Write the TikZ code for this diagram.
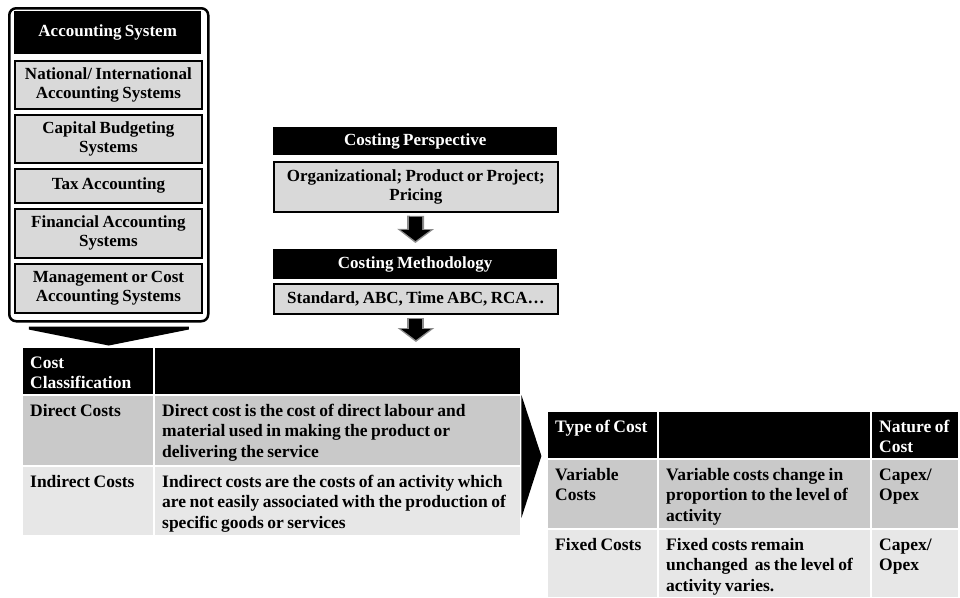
\documentclass[tikz,border=0pt]{standalone}
\usepackage{fontspec}
\setmainfont{Liberation Serif}[WordSpace=0.8]
\usepackage{xcolor}
\usetikzlibrary{calc,arrows.meta}

\definecolor{listgray}{RGB}{217,217,217}
\definecolor{rowdark}{RGB}{201,201,201}
\definecolor{rowlight}{RGB}{231,231,231}

\begin{document}
\begin{tikzpicture}[x=1pt, y=-1pt,
    head/.style={fill=black, text=white, font=\bfseries\fontsize{17}{19}\selectfont, align=center, inner sep=0pt, anchor=north west},
    listbox/.style={fill=listgray, draw=black, line width=1.8pt, font=\bfseries\fontsize{17}{19}\selectfont, align=center, inner sep=0pt, anchor=north west, minimum width=187pt},
    cell/.style={anchor=north west, inner xsep=7pt, inner ysep=6pt, align=flush left, text height=14pt, font=\bfseries\fontsize{17.5}{20.5}\selectfont},
    cellhead/.style={cell, fill=black, text=white},
    celldark/.style={cell, fill=rowdark},
    celllight/.style={cell, fill=rowlight},
    arrowrim/.style={draw=black!45, line width=17pt, -{Triangle[length=14pt, width=36pt]}, shorten <=3pt, shorten >=6pt},
    arrowcore/.style={draw=black, line width=13pt, -{Triangle[length=11pt, width=29pt]}, shorten <=4pt, shorten >=8pt}
]
    \useasboundingbox (0,0) rectangle (960,597);

    % Accounting system stack
    \node[draw=black, line width=2.5pt, rounded corners=7pt, minimum width=199pt, minimum height=313pt, anchor=north west, inner sep=0pt] (acc) at (8,7) {};
    \node[head, minimum width=187pt, minimum height=43pt] (acchead) at (14,11) {Accounting System};
    \node[listbox, minimum height=48pt] (natl) at (14,60) {National/ International\\Accounting Systems};
    \node[listbox, minimum height=48pt] (capb) at (14,114) {Capital Budgeting\\Systems};
    \node[listbox, minimum height=34pt] (taxa) at (14,168) {Tax Accounting};
    \node[listbox, minimum height=49pt] (fina) at (14,208) {Financial Accounting\\Systems};
    \node[listbox, minimum height=49pt] (mgmt) at (14,263) {Management or Cost\\Accounting Systems};

    % Costing perspective and methodology
    \node[head, minimum width=284pt, minimum height=28pt] (phead) at (273,127) {Costing Perspective};
    \node[listbox, minimum width=284pt, minimum height=50pt] (pbody) at (273,161) {Organizational; Product or Project;\\Pricing};
    \node[head, minimum width=284pt, minimum height=30pt] (mhead) at (273,249) {Costing Methodology};
    \node[listbox, minimum width=284pt, minimum height=30pt] (mbody) at (273,283) {Standard, ABC, Time ABC, RCA…};

    % Cost classification table
    \node[cellhead, text width=116pt, text depth=20pt] (c1h1) at (23,348) {Cost\\Classification};
    \node[cellhead, text width=351pt, text depth=20pt] (c1h2) at (155,348) {};
    \node[celldark, text width=116pt, text depth=43pt] (c1r1a) at (23,396) {Direct Costs};
    \node[celldark, text width=351pt, text depth=43pt] (c1r1b) at (155,396) {Direct cost is the cost of direct labour and\\material used in making the product or\\delivering the service};
    \node[celllight, text width=116pt, text depth=42pt] (c1r2a) at (23,467) {Indirect Costs};
    \node[celllight, text width=351pt, text depth=42pt] (c1r2b) at (155,467) {Indirect costs are the costs of an activity which\\are not easily associated with the production of\\specific goods or services};

    % Type of cost table
    \node[cellhead, text width=95pt, text depth=20pt] (c2h1) at (548,412) {Type of Cost};
    \node[cellhead, text width=197pt, text depth=20pt] (c2h2) at (659,412) {};
    \node[cellhead, text width=72pt, text depth=20pt] (c2h3) at (872,412) {Nature of\\Cost};
    \node[celldark, text width=95pt, text depth=42pt] (c2r1a) at (548,460) {Variable\\Costs};
    \node[celldark, text width=197pt, text depth=42pt] (c2r1b) at (659,460) {Variable costs change in\\proportion to the level of\\activity};
    \node[celldark, text width=72pt, text depth=42pt] (c2r1c) at (872,460) {Capex/\\Opex};
    \node[celllight, text width=95pt, text depth=41pt] (c2r2a) at (548,530) {Fixed Costs};
    \node[celllight, text width=197pt, text depth=41pt] (c2r2b) at (659,530) {Fixed costs remain\\unchanged~ as the level of\\activity varies.};
    \node[celllight, text width=72pt, text depth=41pt] (c2r2c) at (872,530) {Capex/\\Opex};

    % Arrows between steps
    \draw[arrowrim] (pbody) -- (mhead);
    \draw[arrowcore] (pbody) -- (mhead);
    \draw[arrowrim] (mbody) -- (mbody |- c1h2.north);
    \draw[arrowcore] (mbody) -- (mbody |- c1h2.north);

    % Wedge under the stack
    \fill ($(acc.south)+(-80,4)$) -- ($(acc.south)+(80,4)$) -- ($(acc.south)+(80,7)$) -- ($(acc.south)+(0,23)$) -- ($(acc.south)+(-80,7)$) -- cycle;

    % Chevron into the second table
    \fill ($(c1r1b.north east)+(1,-1)$) -- ($(c1r1b.north east)+(21,60)$) -- ($(c1r1b.north east)+(1,122)$) -- cycle;
\end{tikzpicture}
\end{document}
